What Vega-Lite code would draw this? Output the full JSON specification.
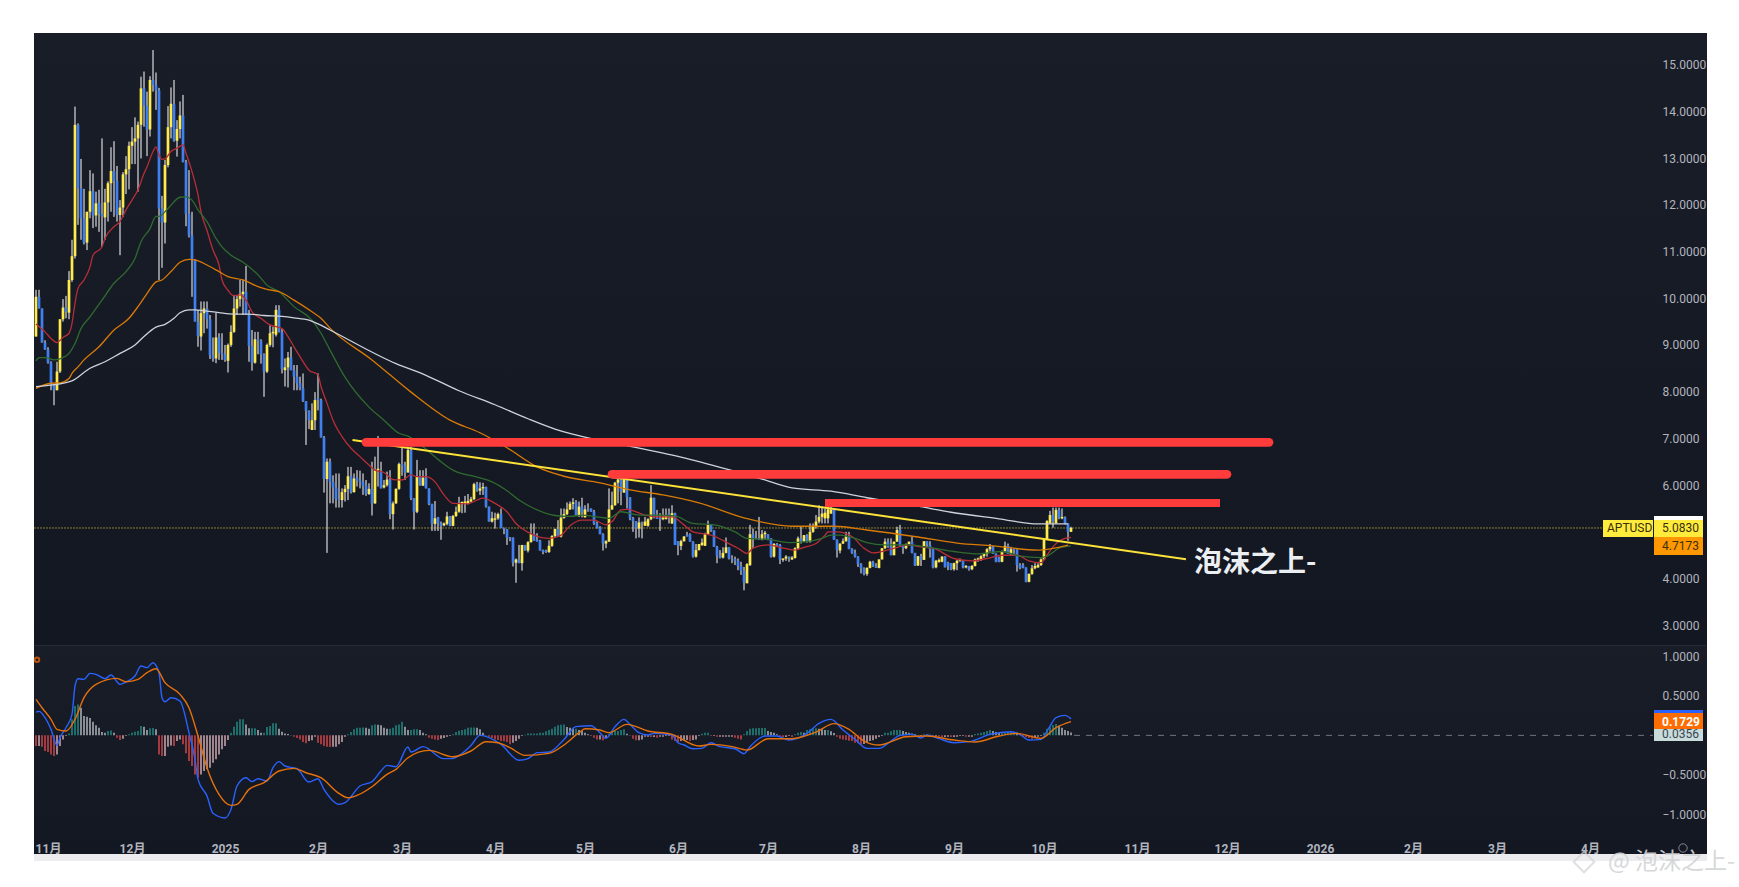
{
"$schema":"https://vega.github.io/schema/vega-lite/v6.json",
"background":"#ffffff",
"padding":{"left":30,"top":33,"right":30,"bottom":33},
"spacing":-1,
"config":{
 "view":{"stroke":null},
 "axis":{"title":null,"grid":false,"ticks":false,"domain":false,"labelFont":"Roboto, Noto Sans CJK SC","labelFontSize":12,"labelColor":"#b2b5be","labelOverlap":false,"labelFlush":false}
},
"datasets":{
"ohlc":[
{"d":"2024-10-30","o":9.18,"h":10.18,"l":9.18,"c":10.03,"m":-0.135},
{"d":"2024-10-31","o":10.03,"h":10.18,"l":9.78,"c":9.78,"m":-0.135},
{"d":"2024-11-01","o":9.78,"h":9.78,"l":9.05,"c":9.05,"m":-0.143},
{"d":"2024-11-02","o":9.05,"h":9.1,"l":8.9,"c":8.9,"m":-0.198},
{"d":"2024-11-03","o":8.9,"h":8.95,"l":8.6,"c":8.62,"m":-0.211},
{"d":"2024-11-04","o":8.62,"h":8.65,"l":8.03,"c":8.16,"m":-0.241},
{"d":"2024-11-05","o":8.16,"h":8.16,"l":7.71,"c":8.03,"m":-0.262},
{"d":"2024-11-06","o":8.03,"h":8.64,"l":8.03,"c":8.43,"m":-0.241},
{"d":"2024-11-07","o":8.43,"h":9.55,"l":8.4,"c":9.55,"m":-0.135},
{"d":"2024-11-08","o":9.55,"h":9.98,"l":9.5,"c":9.8,"m":-0.051},
{"d":"2024-11-09","o":9.8,"h":10.05,"l":9.57,"c":9.71,"m":-0.008},
{"d":"2024-11-10","o":9.69,"h":10.58,"l":9.55,"c":10.39,"m":0.025},
{"d":"2024-11-11","o":10.39,"h":11.25,"l":10.35,"c":10.9,"m":0.203},
{"d":"2024-11-12","o":10.9,"h":14.1,"l":10.85,"c":13.71,"m":0.371},
{"d":"2024-11-13","o":13.71,"h":13.74,"l":11.57,"c":12.35,"m":0.392},
{"d":"2024-11-14","o":12.35,"h":12.98,"l":11.25,"c":11.71,"m":0.35},
{"d":"2024-11-15","o":11.71,"h":12.34,"l":11.15,"c":11.19,"m":0.245},
{"d":"2024-11-16","o":11.19,"h":11.85,"l":11.03,"c":11.85,"m":0.236},
{"d":"2024-11-17","o":11.85,"h":12.74,"l":11.71,"c":12.29,"m":0.219},
{"d":"2024-11-18","o":12.29,"h":12.67,"l":11.5,"c":11.77,"m":0.173},
{"d":"2024-11-19","o":11.77,"h":12.28,"l":11.53,"c":12.03,"m":0.127},
{"d":"2024-11-20","o":12.03,"h":12.32,"l":11.42,"c":11.8,"m":0.097},
{"d":"2024-11-21","o":11.8,"h":13.42,"l":11.1,"c":11.75,"m":0.042},
{"d":"2024-11-22","o":11.73,"h":12.34,"l":11.25,"c":12.05,"m":0.034},
{"d":"2024-11-23","o":12.05,"h":12.5,"l":11.64,"c":12.46,"m":0.055},
{"d":"2024-11-24","o":12.46,"h":13.23,"l":11.85,"c":12.72,"m":0.063},
{"d":"2024-11-25","o":12.72,"h":13.36,"l":11.74,"c":12.51,"m":0.034},
{"d":"2024-11-26","o":12.51,"h":12.83,"l":11.64,"c":11.78,"m":-0.03},
{"d":"2024-11-27","o":11.78,"h":12.1,"l":10.92,"c":11.94,"m":-0.059},
{"d":"2024-11-28","o":11.94,"h":12.7,"l":11.74,"c":12.65,"m":-0.042},
{"d":"2024-11-29","o":12.65,"h":13.04,"l":12.23,"c":12.76,"m":-0.008},
{"d":"2024-11-30","o":12.76,"h":13.35,"l":12.33,"c":13.26,"m":0.013},
{"d":"2024-12-01","o":13.26,"h":13.66,"l":12.87,"c":13.35,"m":0.034},
{"d":"2024-12-02","o":13.35,"h":13.87,"l":12.87,"c":13.42,"m":0.046},
{"d":"2024-12-03","o":13.42,"h":13.78,"l":12.28,"c":13.71,"m":0.055},
{"d":"2024-12-04","o":13.71,"h":14.74,"l":12.99,"c":14.49,"m":0.118},
{"d":"2024-12-05","o":14.49,"h":14.85,"l":13.67,"c":14.12,"m":0.11},
{"d":"2024-12-06","o":14.12,"h":14.42,"l":13.04,"c":13.61,"m":0.068},
{"d":"2024-12-07","o":13.61,"h":14.75,"l":13.46,"c":14.67,"m":0.089},
{"d":"2024-12-08","o":14.67,"h":15.31,"l":14.42,"c":14.56,"m":0.093},
{"d":"2024-12-09","o":14.56,"h":14.83,"l":14.03,"c":14.45,"m":0.076},
{"d":"2024-12-10","o":14.45,"h":14.5,"l":10.39,"c":11.92,"m":-0.241},
{"d":"2024-12-11","o":11.92,"h":12.19,"l":10.65,"c":11.62,"m":-0.262},
{"d":"2024-12-12","o":11.62,"h":12.96,"l":11.17,"c":12.85,"m":-0.262},
{"d":"2024-12-13","o":12.85,"h":14.11,"l":12.8,"c":13.66,"m":-0.143},
{"d":"2024-12-14","o":13.66,"h":14.51,"l":13.42,"c":14.16,"m":-0.127},
{"d":"2024-12-15","o":14.16,"h":14.67,"l":13.35,"c":13.37,"m":-0.135},
{"d":"2024-12-16","o":13.37,"h":13.81,"l":13.03,"c":13.62,"m":-0.072},
{"d":"2024-12-17","o":13.62,"h":14.21,"l":13.42,"c":13.91,"m":-0.051},
{"d":"2024-12-18","o":13.91,"h":14.35,"l":12.91,"c":12.91,"m":-0.114},
{"d":"2024-12-19","o":12.91,"h":12.96,"l":11.54,"c":11.8,"m":-0.228},
{"d":"2024-12-20","o":11.8,"h":12.74,"l":11.3,"c":11.34,"m":-0.325},
{"d":"2024-12-21","o":11.34,"h":11.85,"l":10.03,"c":10.83,"m":-0.388},
{"d":"2024-12-22","o":10.83,"h":10.83,"l":9.5,"c":9.5,"m":-0.494},
{"d":"2024-12-23","o":9.5,"h":9.75,"l":8.96,"c":9.19,"m":-0.536},
{"d":"2024-12-24","o":9.18,"h":9.93,"l":8.88,"c":9.68,"m":-0.494},
{"d":"2024-12-25","o":9.68,"h":9.93,"l":9.25,"c":9.78,"m":-0.451},
{"d":"2024-12-26","o":9.78,"h":9.93,"l":9.35,"c":9.55,"m":-0.43},
{"d":"2024-12-27","o":9.55,"h":9.64,"l":8.7,"c":8.78,"m":-0.409},
{"d":"2024-12-28","o":8.78,"h":9.16,"l":8.64,"c":8.71,"m":-0.346},
{"d":"2024-12-29","o":8.71,"h":9.69,"l":8.61,"c":9.16,"m":-0.304},
{"d":"2024-12-30","o":9.16,"h":9.25,"l":8.68,"c":8.83,"m":-0.241},
{"d":"2024-12-31","o":8.83,"h":9.25,"l":8.68,"c":8.8,"m":-0.177},
{"d":"2025-01-01","o":8.8,"h":9,"l":8.64,"c":8.68,"m":-0.135},
{"d":"2025-01-02","o":8.66,"h":9.03,"l":8.41,"c":9,"m":-0.059},
{"d":"2025-01-03","o":9,"h":9.42,"l":8.96,"c":9.28,"m":0.034},
{"d":"2025-01-04","o":9.28,"h":10.07,"l":9.26,"c":9.78,"m":0.11},
{"d":"2025-01-05","o":9.78,"h":10.07,"l":9.64,"c":9.98,"m":0.173},
{"d":"2025-01-06","o":9.98,"h":10.39,"l":9.82,"c":10.09,"m":0.203},
{"d":"2025-01-07","o":10.09,"h":10.39,"l":9.64,"c":10.14,"m":0.203},
{"d":"2025-01-08","o":10.14,"h":10.69,"l":9.64,"c":9.65,"m":0.139},
{"d":"2025-01-09","o":9.65,"h":9.75,"l":8.64,"c":8.98,"m":0.089},
{"d":"2025-01-10","o":8.98,"h":9.32,"l":8.45,"c":8.62,"m":0.089},
{"d":"2025-01-11","o":8.62,"h":9.28,"l":8.6,"c":9.12,"m":0.089},
{"d":"2025-01-12","o":9.12,"h":9.28,"l":8.8,"c":9.09,"m":0.068},
{"d":"2025-01-13","o":9.09,"h":9.12,"l":8.6,"c":8.8,"m":0.034},
{"d":"2025-01-14","o":8.8,"h":8.82,"l":7.89,"c":8.43,"m":0.034},
{"d":"2025-01-15","o":8.43,"h":9.03,"l":8.4,"c":9,"m":0.105},
{"d":"2025-01-16","o":9,"h":9.42,"l":8.96,"c":9.25,"m":0.118},
{"d":"2025-01-17","o":9.25,"h":9.39,"l":8.95,"c":9.28,"m":0.152},
{"d":"2025-01-18","o":9.22,"h":9.85,"l":9.18,"c":9.75,"m":0.152},
{"d":"2025-01-19","o":9.75,"h":9.85,"l":9.27,"c":9.27,"m":0.084},
{"d":"2025-01-20","o":9.27,"h":9.35,"l":8.39,"c":8.48,"m":0.046},
{"d":"2025-01-21","o":8.46,"h":8.71,"l":8.11,"c":8.52,"m":0.025},
{"d":"2025-01-22","o":8.52,"h":8.85,"l":8.09,"c":8.73,"m":0.017},
{"d":"2025-01-23","o":8.73,"h":8.96,"l":8.46,"c":8.46,"m":0.004},
{"d":"2025-01-24","o":8.46,"h":8.57,"l":8.03,"c":8.32,"m":-0.017},
{"d":"2025-01-25","o":8.32,"h":8.57,"l":8.03,"c":8.18,"m":-0.034},
{"d":"2025-01-26","o":8.18,"h":8.32,"l":8.03,"c":8.07,"m":-0.051},
{"d":"2025-01-27","o":8.07,"h":8.39,"l":7.78,"c":7.8,"m":-0.084},
{"d":"2025-01-28","o":7.8,"h":7.8,"l":6.86,"c":7.59,"m":-0.101},
{"d":"2025-01-29","o":7.59,"h":7.6,"l":7.2,"c":7.39,"m":-0.072},
{"d":"2025-01-30","o":7.18,"h":7.75,"l":7.18,"c":7.39,"m":-0.063},
{"d":"2025-01-31","o":7.39,"h":7.99,"l":7.18,"c":7.82,"m":-0.017},
{"d":"2025-02-01","o":7.85,"h":8.39,"l":7.6,"c":7.82,"m":-0.093},
{"d":"2025-02-02","o":7.82,"h":7.85,"l":7.02,"c":7.02,"m":-0.114},
{"d":"2025-02-03","o":7.02,"h":7.05,"l":5.84,"c":6.13,"m":-0.135},
{"d":"2025-02-04","o":6.13,"h":6.57,"l":4.55,"c":6.5,"m":-0.143},
{"d":"2025-02-05","o":6.5,"h":6.57,"l":5.61,"c":6.07,"m":-0.148},
{"d":"2025-02-06","o":6.07,"h":6.21,"l":5.61,"c":5.95,"m":-0.143},
{"d":"2025-02-07","o":5.95,"h":6.25,"l":5.52,"c":5.7,"m":-0.143},
{"d":"2025-02-08","o":5.7,"h":6.25,"l":5.52,"c":5.68,"m":-0.114},
{"d":"2025-02-09","o":5.68,"h":5.93,"l":5.52,"c":5.85,"m":-0.084},
{"d":"2025-02-10","o":5.85,"h":6,"l":5.65,"c":5.92,"m":-0.017},
{"d":"2025-02-11","o":5.92,"h":6.39,"l":5.68,"c":6.19,"m":0.013},
{"d":"2025-02-12","o":6.19,"h":6.39,"l":5.82,"c":5.85,"m":0.042},
{"d":"2025-02-13","o":5.85,"h":6.25,"l":5.84,"c":6.14,"m":0.076},
{"d":"2025-02-14","o":6.16,"h":6.32,"l":5.97,"c":6.1,"m":0.097},
{"d":"2025-02-15","o":6.1,"h":6.31,"l":5.93,"c":6.07,"m":0.097},
{"d":"2025-02-16","o":6.07,"h":6.25,"l":5.79,"c":5.99,"m":0.101},
{"d":"2025-02-17","o":5.99,"h":6.11,"l":5.77,"c":5.81,"m":0.097},
{"d":"2025-02-18","o":5.81,"h":6.04,"l":5.79,"c":5.92,"m":0.084},
{"d":"2025-02-19","o":5.92,"h":6.5,"l":5.35,"c":5.61,"m":0.127},
{"d":"2025-02-20","o":5.61,"h":6.61,"l":5.6,"c":6.32,"m":0.139},
{"d":"2025-02-21","o":6.32,"h":7.05,"l":5.97,"c":6.35,"m":0.135},
{"d":"2025-02-22","o":6.3,"h":6.5,"l":5.93,"c":5.93,"m":0.127},
{"d":"2025-02-23","o":5.95,"h":6.11,"l":5.93,"c":6,"m":0.097},
{"d":"2025-02-24","o":6,"h":6.29,"l":5.97,"c":6.12,"m":0.084},
{"d":"2025-02-25","o":6.12,"h":6.32,"l":5.27,"c":5.38,"m":0.084},
{"d":"2025-02-26","o":5.38,"h":5.65,"l":5.05,"c":5.61,"m":0.097},
{"d":"2025-02-27","o":5.61,"h":5.93,"l":5.6,"c":5.92,"m":0.127},
{"d":"2025-02-28","o":5.92,"h":6.48,"l":5.9,"c":6.45,"m":0.139},
{"d":"2025-03-01","o":6.45,"h":6.81,"l":6.2,"c":6.42,"m":0.173},
{"d":"2025-03-02","o":6.42,"h":6.5,"l":6.11,"c":6.27,"m":0.11},
{"d":"2025-03-03","o":6.27,"h":6.82,"l":6.27,"c":6.75,"m":0.068},
{"d":"2025-03-04","o":6.75,"h":6.82,"l":5.68,"c":5.72,"m":0.068},
{"d":"2025-03-05","o":5.72,"h":5.72,"l":5.05,"c":5.43,"m":0.076},
{"d":"2025-03-06","o":5.43,"h":6.54,"l":5.4,"c":6.19,"m":0.076},
{"d":"2025-03-07","o":6.19,"h":6.32,"l":5.99,"c":5.99,"m":0.068},
{"d":"2025-03-08","o":5.99,"h":6.32,"l":5.98,"c":6.16,"m":0.034},
{"d":"2025-03-09","o":6.16,"h":6.36,"l":5.93,"c":5.93,"m":0.013},
{"d":"2025-03-10","o":5.93,"h":5.93,"l":5.57,"c":5.6,"m":-0.03},
{"d":"2025-03-11","o":5.6,"h":5.6,"l":5.02,"c":5.17,"m":-0.042},
{"d":"2025-03-12","o":5.17,"h":5.66,"l":5.02,"c":5.29,"m":-0.051},
{"d":"2025-03-13","o":5.31,"h":5.32,"l":5.02,"c":5.18,"m":-0.059},
{"d":"2025-03-14","o":5.18,"h":5.22,"l":4.83,"c":5.13,"m":-0.042},
{"d":"2025-03-15","o":5.14,"h":5.2,"l":5.12,"c":5.18,"m":-0.034},
{"d":"2025-03-16","o":5.17,"h":5.43,"l":5.14,"c":5.33,"m":-0.017},
{"d":"2025-03-17","o":5.33,"h":5.34,"l":5.12,"c":5.13,"m":-0.008},
{"d":"2025-03-18","o":5.13,"h":5.36,"l":5.12,"c":5.34,"m":0.013},
{"d":"2025-03-19","o":5.34,"h":5.54,"l":5.32,"c":5.43,"m":0.042},
{"d":"2025-03-20","o":5.43,"h":5.75,"l":5.41,"c":5.61,"m":0.059},
{"d":"2025-03-21","o":5.61,"h":5.65,"l":5.4,"c":5.64,"m":0.068},
{"d":"2025-03-22","o":5.6,"h":5.77,"l":5.41,"c":5.65,"m":0.076},
{"d":"2025-03-23","o":5.6,"h":5.81,"l":5.59,"c":5.66,"m":0.097},
{"d":"2025-03-24","o":5.65,"h":5.75,"l":5.63,"c":5.7,"m":0.101},
{"d":"2025-03-25","o":5.7,"h":6.05,"l":5.68,"c":6.02,"m":0.101},
{"d":"2025-03-26","o":6.02,"h":6.07,"l":5.86,"c":5.88,"m":0.097},
{"d":"2025-03-27","o":5.88,"h":6.06,"l":5.79,"c":5.93,"m":0.076},
{"d":"2025-03-28","o":5.93,"h":6.05,"l":5.79,"c":5.96,"m":0.034},
{"d":"2025-03-29","o":5.96,"h":5.97,"l":5.52,"c":5.54,"m":0.004},
{"d":"2025-03-30","o":5.54,"h":5.54,"l":5.22,"c":5.22,"m":-0.017},
{"d":"2025-03-31","o":5.22,"h":5.43,"l":5.2,"c":5.29,"m":-0.034},
{"d":"2025-04-01","o":5.26,"h":5.41,"l":5.07,"c":5.29,"m":-0.051},
{"d":"2025-04-02","o":5.29,"h":5.41,"l":5.26,"c":5.38,"m":-0.059},
{"d":"2025-04-03","o":5.38,"h":5.5,"l":5.08,"c":5.08,"m":-0.072},
{"d":"2025-04-04","o":5.08,"h":5.09,"l":4.95,"c":5.06,"m":-0.076},
{"d":"2025-04-05","o":5.06,"h":5.06,"l":4.72,"c":4.88,"m":-0.084},
{"d":"2025-04-06","o":4.88,"h":4.89,"l":4.8,"c":4.85,"m":-0.114},
{"d":"2025-04-07","o":4.88,"h":4.88,"l":4.26,"c":4.34,"m":-0.093},
{"d":"2025-04-08","o":4.34,"h":4.43,"l":3.91,"c":4.41,"m":-0.072},
{"d":"2025-04-09","o":4.41,"h":4.72,"l":4.33,"c":4.33,"m":-0.042},
{"d":"2025-04-10","o":4.33,"h":4.72,"l":4.17,"c":4.72,"m":-0.008},
{"d":"2025-04-11","o":4.72,"h":4.72,"l":4.6,"c":4.6,"m":0.008},
{"d":"2025-04-12","o":4.6,"h":4.8,"l":4.56,"c":4.78,"m":0.025},
{"d":"2025-04-13","o":4.78,"h":5.18,"l":4.77,"c":4.95,"m":0.025},
{"d":"2025-04-14","o":4.95,"h":5.18,"l":4.81,"c":4.81,"m":0.025},
{"d":"2025-04-15","o":4.83,"h":4.97,"l":4.79,"c":4.8,"m":0.025},
{"d":"2025-04-16","o":4.81,"h":4.83,"l":4.6,"c":4.6,"m":0.034},
{"d":"2025-04-17","o":4.6,"h":4.62,"l":4.52,"c":4.57,"m":0.034},
{"d":"2025-04-18","o":4.6,"h":4.62,"l":4.55,"c":4.57,"m":0.051},
{"d":"2025-04-19","o":4.57,"h":4.82,"l":4.55,"c":4.7,"m":0.068},
{"d":"2025-04-20","o":4.7,"h":4.93,"l":4.68,"c":4.91,"m":0.084},
{"d":"2025-04-21","o":4.91,"h":5.07,"l":4.88,"c":5.06,"m":0.11},
{"d":"2025-04-22","o":5.06,"h":5.25,"l":4.9,"c":4.9,"m":0.127},
{"d":"2025-04-23","o":4.9,"h":5.5,"l":4.88,"c":5.3,"m":0.135},
{"d":"2025-04-24","o":5.3,"h":5.5,"l":5.28,"c":5.38,"m":0.139},
{"d":"2025-04-25","o":5.38,"h":5.63,"l":5.36,"c":5.48,"m":0.105},
{"d":"2025-04-26","o":5.48,"h":5.65,"l":5.47,"c":5.6,"m":0.097},
{"d":"2025-04-27","o":5.6,"h":5.72,"l":5.48,"c":5.63,"m":0.084},
{"d":"2025-04-28","o":5.63,"h":5.68,"l":5.34,"c":5.36,"m":0.084},
{"d":"2025-04-29","o":5.34,"h":5.65,"l":5.32,"c":5.54,"m":0.068},
{"d":"2025-04-30","o":5.54,"h":5.73,"l":5.31,"c":5.41,"m":0.055},
{"d":"2025-05-01","o":5.31,"h":5.57,"l":5.31,"c":5.48,"m":0.034},
{"d":"2025-05-02","o":5.48,"h":5.61,"l":5.43,"c":5.47,"m":0.013},
{"d":"2025-05-03","o":5.5,"h":5.5,"l":5.43,"c":5.43,"m":-0.008},
{"d":"2025-05-04","o":5.43,"h":5.47,"l":5.15,"c":5.18,"m":-0.03},
{"d":"2025-05-05","o":5.18,"h":5.22,"l":5.07,"c":5.09,"m":-0.051},
{"d":"2025-05-06","o":5.09,"h":5.12,"l":4.95,"c":4.95,"m":-0.051},
{"d":"2025-05-07","o":4.95,"h":4.97,"l":4.6,"c":4.75,"m":-0.063},
{"d":"2025-05-08","o":4.75,"h":4.82,"l":4.65,"c":4.8,"m":-0.03},
{"d":"2025-05-09","o":4.79,"h":5.93,"l":4.79,"c":5.48,"m":0.013},
{"d":"2025-05-10","o":5.48,"h":5.86,"l":5.47,"c":5.57,"m":0.042},
{"d":"2025-05-11","o":5.57,"h":6.07,"l":5.56,"c":6.05,"m":0.055},
{"d":"2025-05-12","o":6.05,"h":6.18,"l":5.61,"c":6.12,"m":0.055},
{"d":"2025-05-13","o":6.12,"h":6.13,"l":5.57,"c":5.86,"m":0.068},
{"d":"2025-05-14","o":5.84,"h":6.17,"l":5.84,"c":6.12,"m":0.076},
{"d":"2025-05-15","o":6.12,"h":6.15,"l":5.5,"c":5.74,"m":0.021},
{"d":"2025-05-16","o":5.74,"h":5.74,"l":5.25,"c":5.29,"m":0.004},
{"d":"2025-05-17","o":5.29,"h":5.32,"l":5,"c":5.23,"m":-0.042},
{"d":"2025-05-18","o":5.23,"h":5.23,"l":4.86,"c":5.07,"m":-0.063},
{"d":"2025-05-19","o":5.07,"h":5.31,"l":4.88,"c":5.2,"m":-0.063},
{"d":"2025-05-20","o":5.2,"h":5.22,"l":4.86,"c":5.18,"m":-0.051},
{"d":"2025-05-21","o":5.13,"h":5.32,"l":5.13,"c":5.22,"m":-0.017},
{"d":"2025-05-22","o":5.13,"h":5.29,"l":5.11,"c":5.27,"m":-0.017},
{"d":"2025-05-23","o":5.27,"h":6,"l":5.25,"c":5.73,"m":-0.021},
{"d":"2025-05-24","o":5.73,"h":5.73,"l":5.29,"c":5.31,"m":-0.021},
{"d":"2025-05-25","o":5.31,"h":5.47,"l":5.28,"c":5.28,"m":-0.03},
{"d":"2025-05-26","o":5.3,"h":5.4,"l":5.02,"c":5.27,"m":-0.017},
{"d":"2025-05-27","o":5.27,"h":5.5,"l":5.25,"c":5.32,"m":-0.017},
{"d":"2025-05-28","o":5.27,"h":5.5,"l":5.27,"c":5.36,"m":-0.008},
{"d":"2025-05-29","o":5.39,"h":5.5,"l":5.18,"c":5.36,"m":-0.008},
{"d":"2025-05-30","o":5.18,"h":5.57,"l":5.17,"c":5.4,"m":-0.051},
{"d":"2025-05-31","o":5.4,"h":5.41,"l":4.72,"c":4.72,"m":-0.072},
{"d":"2025-06-01","o":4.8,"h":4.8,"l":4.5,"c":4.7,"m":-0.084},
{"d":"2025-06-02","o":4.7,"h":4.83,"l":4.61,"c":4.8,"m":-0.072},
{"d":"2025-06-03","o":4.8,"h":4.91,"l":4.79,"c":4.9,"m":-0.059},
{"d":"2025-06-04","o":4.93,"h":5,"l":4.9,"c":4.9,"m":-0.059},
{"d":"2025-06-05","o":4.95,"h":4.97,"l":4.79,"c":4.79,"m":-0.072},
{"d":"2025-06-06","o":4.79,"h":4.8,"l":4.45,"c":4.47,"m":-0.059},
{"d":"2025-06-07","o":4.47,"h":4.74,"l":4.45,"c":4.61,"m":-0.051},
{"d":"2025-06-08","o":4.61,"h":4.74,"l":4.6,"c":4.74,"m":-0.008},
{"d":"2025-06-09","o":4.72,"h":4.86,"l":4.7,"c":4.77,"m":0.021},
{"d":"2025-06-10","o":4.7,"h":4.98,"l":4.7,"c":4.95,"m":0.034},
{"d":"2025-06-11","o":4.95,"h":5.24,"l":4.93,"c":5.15,"m":0.034},
{"d":"2025-06-12","o":5.15,"h":5.15,"l":5,"c":5.03,"m":-0.008},
{"d":"2025-06-13","o":5.03,"h":5.03,"l":4.68,"c":4.68,"m":-0.008},
{"d":"2025-06-14","o":4.68,"h":4.7,"l":4.33,"c":4.49,"m":-0.017},
{"d":"2025-06-15","o":4.49,"h":4.61,"l":4.43,"c":4.45,"m":-0.017},
{"d":"2025-06-16","o":4.45,"h":4.67,"l":4.43,"c":4.55,"m":-0.017},
{"d":"2025-06-17","o":4.55,"h":4.88,"l":4.54,"c":4.67,"m":-0.017},
{"d":"2025-06-18","o":4.67,"h":4.67,"l":4.41,"c":4.43,"m":-0.017},
{"d":"2025-06-19","o":4.43,"h":4.5,"l":4.33,"c":4.42,"m":-0.017},
{"d":"2025-06-20","o":4.42,"h":4.47,"l":4.29,"c":4.38,"m":-0.03},
{"d":"2025-06-21","o":4.38,"h":4.43,"l":4.18,"c":4.27,"m":-0.042},
{"d":"2025-06-22","o":4.27,"h":4.36,"l":4.08,"c":4.17,"m":-0.051},
{"d":"2025-06-23","o":4.17,"h":4.25,"l":3.75,"c":3.91,"m":0.013},
{"d":"2025-06-24","o":3.9,"h":4.33,"l":3.9,"c":4.31,"m":0.055},
{"d":"2025-06-25","o":4.29,"h":5.15,"l":4.27,"c":4.95,"m":0.084},
{"d":"2025-06-26","o":4.95,"h":5.07,"l":4.65,"c":4.86,"m":0.089},
{"d":"2025-06-27","o":4.86,"h":5.02,"l":4.84,"c":4.85,"m":0.089},
{"d":"2025-06-28","o":4.85,"h":5.32,"l":4.83,"c":4.84,"m":0.093},
{"d":"2025-06-29","o":4.84,"h":5.04,"l":4.82,"c":4.95,"m":0.093},
{"d":"2025-06-30","o":4.95,"h":5.02,"l":4.84,"c":4.98,"m":0.093},
{"d":"2025-07-01","o":4.95,"h":4.95,"l":4.82,"c":4.86,"m":0.055},
{"d":"2025-07-02","o":4.86,"h":4.86,"l":4.45,"c":4.47,"m":0.042},
{"d":"2025-07-03","o":4.47,"h":4.76,"l":4.45,"c":4.74,"m":0.034},
{"d":"2025-07-04","o":4.74,"h":4.76,"l":4.7,"c":4.72,"m":0.013},
{"d":"2025-07-05","o":4.72,"h":4.74,"l":4.31,"c":4.41,"m":-0.017},
{"d":"2025-07-06","o":4.4,"h":4.43,"l":4.36,"c":4.43,"m":-0.021},
{"d":"2025-07-07","o":4.43,"h":4.5,"l":4.38,"c":4.47,"m":-0.021},
{"d":"2025-07-08","o":4.47,"h":4.47,"l":4.36,"c":4.43,"m":-0.008},
{"d":"2025-07-09","o":4.41,"h":4.48,"l":4.4,"c":4.45,"m":-0.021},
{"d":"2025-07-10","o":4.44,"h":4.67,"l":4.43,"c":4.65,"m":0.013},
{"d":"2025-07-11","o":4.65,"h":4.9,"l":4.63,"c":4.86,"m":0.034},
{"d":"2025-07-12","o":4.86,"h":5.11,"l":4.75,"c":4.79,"m":0.042},
{"d":"2025-07-13","o":4.79,"h":4.93,"l":4.79,"c":4.93,"m":0.034},
{"d":"2025-07-14","o":4.93,"h":4.95,"l":4.77,"c":4.79,"m":0.068},
{"d":"2025-07-15","o":4.79,"h":5.18,"l":4.77,"c":5,"m":0.076},
{"d":"2025-07-16","o":5,"h":5.18,"l":4.98,"c":5.11,"m":0.084},
{"d":"2025-07-17","o":5.11,"h":5.36,"l":5.07,"c":5.22,"m":0.089},
{"d":"2025-07-18","o":5.22,"h":5.57,"l":5.18,"c":5.32,"m":0.084},
{"d":"2025-07-19","o":5.32,"h":5.54,"l":5.18,"c":5.39,"m":0.076},
{"d":"2025-07-20","o":5.29,"h":5.5,"l":5.18,"c":5.41,"m":0.068},
{"d":"2025-07-21","o":5.29,"h":5.54,"l":5.18,"c":5.48,"m":0.068},
{"d":"2025-07-22","o":5.39,"h":5.54,"l":5.39,"c":5.48,"m":0.051},
{"d":"2025-07-23","o":5.48,"h":5.5,"l":4.83,"c":4.83,"m":0.03},
{"d":"2025-07-24","o":4.83,"h":4.84,"l":4.45,"c":4.61,"m":-0.017},
{"d":"2025-07-25","o":4.6,"h":4.75,"l":4.54,"c":4.75,"m":-0.042},
{"d":"2025-07-26","o":4.75,"h":4.86,"l":4.74,"c":4.8,"m":-0.051},
{"d":"2025-07-27","o":4.8,"h":5,"l":4.79,"c":4.9,"m":-0.059},
{"d":"2025-07-28","o":4.9,"h":5,"l":4.63,"c":4.63,"m":-0.068},
{"d":"2025-07-29","o":4.63,"h":4.65,"l":4.53,"c":4.55,"m":-0.072},
{"d":"2025-07-30","o":4.55,"h":4.62,"l":4.45,"c":4.47,"m":-0.093},
{"d":"2025-07-31","o":4.47,"h":4.48,"l":4.25,"c":4.31,"m":-0.101},
{"d":"2025-08-01","o":4.31,"h":4.33,"l":4.11,"c":4.22,"m":-0.118},
{"d":"2025-08-02","o":4.22,"h":4.24,"l":4.07,"c":4.1,"m":-0.11},
{"d":"2025-08-03","o":4.1,"h":4.24,"l":4.06,"c":4.23,"m":-0.084},
{"d":"2025-08-04","o":4.23,"h":4.38,"l":4.22,"c":4.36,"m":-0.072},
{"d":"2025-08-05","o":4.36,"h":4.38,"l":4.25,"c":4.27,"m":-0.063},
{"d":"2025-08-06","o":4.27,"h":4.33,"l":4.23,"c":4.23,"m":-0.042},
{"d":"2025-08-07","o":4.23,"h":4.41,"l":4.22,"c":4.41,"m":-0.021},
{"d":"2025-08-08","o":4.41,"h":4.65,"l":4.41,"c":4.65,"m":-0.008},
{"d":"2025-08-09","o":4.65,"h":4.86,"l":4.63,"c":4.79,"m":0.034},
{"d":"2025-08-10","o":4.79,"h":4.86,"l":4.66,"c":4.68,"m":0.034},
{"d":"2025-08-11","o":4.68,"h":4.86,"l":4.5,"c":4.5,"m":0.051},
{"d":"2025-08-12","o":4.5,"h":4.79,"l":4.5,"c":4.79,"m":0.068},
{"d":"2025-08-13","o":4.79,"h":5.11,"l":4.79,"c":5.04,"m":0.068},
{"d":"2025-08-14","o":5.04,"h":5.15,"l":4.68,"c":4.7,"m":0.068},
{"d":"2025-08-15","o":4.7,"h":4.72,"l":4.53,"c":4.65,"m":0.055},
{"d":"2025-08-16","o":4.65,"h":4.75,"l":4.63,"c":4.74,"m":0.042},
{"d":"2025-08-17","o":4.74,"h":4.79,"l":4.73,"c":4.79,"m":0.034},
{"d":"2025-08-18","o":4.79,"h":4.9,"l":4.54,"c":4.55,"m":0.025},
{"d":"2025-08-19","o":4.55,"h":4.55,"l":4.27,"c":4.28,"m":0.013},
{"d":"2025-08-20","o":4.28,"h":4.48,"l":4.27,"c":4.48,"m":-0.008},
{"d":"2025-08-21","o":4.48,"h":4.53,"l":4.27,"c":4.4,"m":-0.008},
{"d":"2025-08-22","o":4.4,"h":4.8,"l":4.4,"c":4.8,"m":0.013},
{"d":"2025-08-23","o":4.8,"h":4.8,"l":4.66,"c":4.72,"m":0.013},
{"d":"2025-08-24","o":4.72,"h":4.8,"l":4.45,"c":4.63,"m":0},
{"d":"2025-08-25","o":4.63,"h":4.65,"l":4.22,"c":4.24,"m":-0.008},
{"d":"2025-08-26","o":4.24,"h":4.4,"l":4.22,"c":4.38,"m":-0.008},
{"d":"2025-08-27","o":4.36,"h":4.43,"l":4.34,"c":4.4,"m":-0.013},
{"d":"2025-08-28","o":4.36,"h":4.48,"l":4.35,"c":4.47,"m":-0.021},
{"d":"2025-08-29","o":4.47,"h":4.48,"l":4.24,"c":4.24,"m":-0.021},
{"d":"2025-08-30","o":4.34,"h":4.36,"l":4.18,"c":4.27,"m":-0.017},
{"d":"2025-08-31","o":4.33,"h":4.33,"l":4.18,"c":4.2,"m":-0.021},
{"d":"2025-09-01","o":4.2,"h":4.34,"l":4.17,"c":4.33,"m":-0.021},
{"d":"2025-09-02","o":4.33,"h":4.4,"l":4.18,"c":4.38,"m":-0.017},
{"d":"2025-09-03","o":4.38,"h":4.43,"l":4.36,"c":4.4,"m":-0.008},
{"d":"2025-09-04","o":4.38,"h":4.4,"l":4.22,"c":4.24,"m":-0.008},
{"d":"2025-09-05","o":4.24,"h":4.29,"l":4.22,"c":4.27,"m":-0.017},
{"d":"2025-09-06","o":4.27,"h":4.27,"l":4.17,"c":4.2,"m":-0.017},
{"d":"2025-09-07","o":4.2,"h":4.29,"l":4.18,"c":4.27,"m":-0.017},
{"d":"2025-09-08","o":4.27,"h":4.43,"l":4.26,"c":4.41,"m":0.017},
{"d":"2025-09-09","o":4.4,"h":4.45,"l":4.36,"c":4.43,"m":0.025},
{"d":"2025-09-10","o":4.4,"h":4.5,"l":4.38,"c":4.48,"m":0.034},
{"d":"2025-09-11","o":4.48,"h":4.55,"l":4.44,"c":4.53,"m":0.042},
{"d":"2025-09-12","o":4.53,"h":4.65,"l":4.47,"c":4.63,"m":0.055},
{"d":"2025-09-13","o":4.63,"h":4.74,"l":4.58,"c":4.68,"m":0.068},
{"d":"2025-09-14","o":4.68,"h":4.7,"l":4.53,"c":4.53,"m":0.055},
{"d":"2025-09-15","o":4.53,"h":4.54,"l":4.35,"c":4.36,"m":0.042},
{"d":"2025-09-16","o":4.45,"h":4.47,"l":4.35,"c":4.36,"m":0.034},
{"d":"2025-09-17","o":4.36,"h":4.6,"l":4.35,"c":4.58,"m":0.034},
{"d":"2025-09-18","o":4.58,"h":4.79,"l":4.56,"c":4.7,"m":0.034},
{"d":"2025-09-19","o":4.7,"h":4.75,"l":4.53,"c":4.53,"m":0.042},
{"d":"2025-09-20","o":4.53,"h":4.68,"l":4.5,"c":4.63,"m":0.042},
{"d":"2025-09-21","o":4.63,"h":4.65,"l":4.53,"c":4.61,"m":0.042},
{"d":"2025-09-22","o":4.61,"h":4.63,"l":4.15,"c":4.29,"m":0.034},
{"d":"2025-09-23","o":4.29,"h":4.33,"l":4.2,"c":4.22,"m":0.025},
{"d":"2025-09-24","o":4.29,"h":4.33,"l":4.22,"c":4.24,"m":-0.017},
{"d":"2025-09-25","o":4.24,"h":4.24,"l":3.92,"c":3.93,"m":-0.025},
{"d":"2025-09-26","o":3.93,"h":4.11,"l":3.92,"c":4.1,"m":-0.034},
{"d":"2025-09-27","o":4.1,"h":4.29,"l":4.08,"c":4.22,"m":-0.042},
{"d":"2025-09-28","o":4.22,"h":4.33,"l":4.2,"c":4.27,"m":-0.034},
{"d":"2025-09-29","o":4.24,"h":4.33,"l":4.23,"c":4.29,"m":-0.017},
{"d":"2025-09-30","o":4.29,"h":4.43,"l":4.27,"c":4.41,"m":-0.008},
{"d":"2025-10-01","o":4.41,"h":4.86,"l":4.4,"c":4.84,"m":0.034},
{"d":"2025-10-02","o":4.84,"h":5.25,"l":4.84,"c":5.23,"m":0.084},
{"d":"2025-10-03","o":5.18,"h":5.45,"l":5.18,"c":5.36,"m":0.11},
{"d":"2025-10-04","o":5.36,"h":5.52,"l":5.09,"c":5.22,"m":0.131},
{"d":"2025-10-05","o":5.19,"h":5.52,"l":5.17,"c":5.47,"m":0.143},
{"d":"2025-10-06","o":5.47,"h":5.52,"l":5.27,"c":5.29,"m":0.118},
{"d":"2025-10-07","o":5.29,"h":5.5,"l":5.27,"c":5.32,"m":0.097},
{"d":"2025-10-08","o":5.31,"h":5.33,"l":5.16,"c":5.18,"m":0.068},
{"d":"2025-10-09","o":5.18,"h":5.18,"l":4.81,"c":5,"m":0.055},
{"d":"2025-10-10","o":5,"h":5.11,"l":5,"c":5.083,"m":0.0356}
],
"ma":[
{"s":"fast","d":"2024-10-30","v":9.45},{"s":"fast","d":"2024-11-02","v":9.28},{"s":"fast","d":"2024-11-04","v":9.14},{"s":"fast","d":"2024-11-06","v":9.05},{"s":"fast","d":"2024-11-08","v":9.16},{"s":"fast","d":"2024-11-10","v":9.25},{"s":"fast","d":"2024-11-11","v":9.46},{"s":"fast","d":"2024-11-12","v":9.89},{"s":"fast","d":"2024-11-13","v":10.21},{"s":"fast","d":"2024-11-15","v":10.39},{"s":"fast","d":"2024-11-17","v":10.67},{"s":"fast","d":"2024-11-18","v":10.92},{"s":"fast","d":"2024-11-21","v":11.1},{"s":"fast","d":"2024-11-22","v":11.28},{"s":"fast","d":"2024-11-25","v":11.53},{"s":"fast","d":"2024-11-27","v":11.64},{"s":"fast","d":"2024-11-29","v":11.89},{"s":"fast","d":"2024-12-01","v":12.1},{"s":"fast","d":"2024-12-03","v":12.32},{"s":"fast","d":"2024-12-05","v":12.67},{"s":"fast","d":"2024-12-06","v":12.81},{"s":"fast","d":"2024-12-08","v":13.14},{"s":"fast","d":"2024-12-09","v":13.24},{"s":"fast","d":"2024-12-10","v":13.06},{"s":"fast","d":"2024-12-11","v":12.97},{"s":"fast","d":"2024-12-12","v":12.98},{"s":"fast","d":"2024-12-14","v":13.14},{"s":"fast","d":"2024-12-16","v":13.21},{"s":"fast","d":"2024-12-18","v":13.28},{"s":"fast","d":"2024-12-19","v":13.1},{"s":"fast","d":"2024-12-21","v":12.71},{"s":"fast","d":"2024-12-23","v":12.21},{"s":"fast","d":"2024-12-24","v":11.85},{"s":"fast","d":"2024-12-26","v":11.45},{"s":"fast","d":"2024-12-28","v":11.03},{"s":"fast","d":"2024-12-30","v":10.71},{"s":"fast","d":"2024-12-31","v":10.39},{"s":"fast","d":"2025-01-02","v":10.17},{"s":"fast","d":"2025-01-04","v":10.05},{"s":"fast","d":"2025-01-06","v":10.07},{"s":"fast","d":"2025-01-08","v":9.96},{"s":"fast","d":"2025-01-10","v":9.71},{"s":"fast","d":"2025-01-13","v":9.57},{"s":"fast","d":"2025-01-16","v":9.43},{"s":"fast","d":"2025-01-18","v":9.39},{"s":"fast","d":"2025-01-20","v":9.35},{"s":"fast","d":"2025-01-22","v":9.18},{"s":"fast","d":"2025-01-24","v":8.96},{"s":"fast","d":"2025-01-26","v":8.75},{"s":"fast","d":"2025-01-29","v":8.46},{"s":"fast","d":"2025-02-01","v":8.36},{"s":"fast","d":"2025-02-02","v":8.11},{"s":"fast","d":"2025-02-04","v":7.75},{"s":"fast","d":"2025-02-06","v":7.39},{"s":"fast","d":"2025-02-09","v":7.04},{"s":"fast","d":"2025-02-12","v":6.79},{"s":"fast","d":"2025-02-15","v":6.61},{"s":"fast","d":"2025-02-18","v":6.43},{"s":"fast","d":"2025-02-20","v":6.32},{"s":"fast","d":"2025-02-23","v":6.27},{"s":"fast","d":"2025-02-26","v":6.12},{"s":"fast","d":"2025-03-01","v":6.11},{"s":"fast","d":"2025-03-04","v":6.22},{"s":"fast","d":"2025-03-06","v":6.18},{"s":"fast","d":"2025-03-09","v":6.18},{"s":"fast","d":"2025-03-12","v":6.07},{"s":"fast","d":"2025-03-15","v":5.79},{"s":"fast","d":"2025-03-18","v":5.61},{"s":"fast","d":"2025-03-23","v":5.6},{"s":"fast","d":"2025-03-26","v":5.68},{"s":"fast","d":"2025-03-28","v":5.72},{"s":"fast","d":"2025-04-01","v":5.61},{"s":"fast","d":"2025-04-05","v":5.43},{"s":"fast","d":"2025-04-08","v":5.18},{"s":"fast","d":"2025-04-10","v":5.07},{"s":"fast","d":"2025-04-14","v":4.93},{"s":"fast","d":"2025-04-19","v":4.86},{"s":"fast","d":"2025-04-23","v":4.93},{"s":"fast","d":"2025-04-26","v":5.13},{"s":"fast","d":"2025-04-30","v":5.25},{"s":"fast","d":"2025-05-04","v":5.25},{"s":"fast","d":"2025-05-08","v":5.15},{"s":"fast","d":"2025-05-10","v":5.22},{"s":"fast","d":"2025-05-13","v":5.47},{"s":"fast","d":"2025-05-15","v":5.48},{"s":"fast","d":"2025-05-21","v":5.36},{"s":"fast","d":"2025-05-26","v":5.32},{"s":"fast","d":"2025-05-30","v":5.32},{"s":"fast","d":"2025-06-03","v":5.15},{"s":"fast","d":"2025-06-06","v":5},{"s":"fast","d":"2025-06-12","v":4.93},{"s":"fast","d":"2025-06-18","v":4.75},{"s":"fast","d":"2025-06-21","v":4.65},{"s":"fast","d":"2025-06-24","v":4.54},{"s":"fast","d":"2025-06-26","v":4.65},{"s":"fast","d":"2025-07-01","v":4.72},{"s":"fast","d":"2025-07-05","v":4.67},{"s":"fast","d":"2025-07-10","v":4.61},{"s":"fast","d":"2025-07-13","v":4.67},{"s":"fast","d":"2025-07-17","v":4.75},{"s":"fast","d":"2025-07-20","v":4.93},{"s":"fast","d":"2025-07-21","v":5},{"s":"fast","d":"2025-07-24","v":5},{"s":"fast","d":"2025-07-29","v":4.9},{"s":"fast","d":"2025-08-02","v":4.65},{"s":"fast","d":"2025-08-05","v":4.55},{"s":"fast","d":"2025-08-11","v":4.63},{"s":"fast","d":"2025-08-17","v":4.72},{"s":"fast","d":"2025-08-21","v":4.68},{"s":"fast","d":"2025-08-25","v":4.65},{"s":"fast","d":"2025-09-01","v":4.43},{"s":"fast","d":"2025-09-07","v":4.38},{"s":"fast","d":"2025-09-12","v":4.43},{"s":"fast","d":"2025-09-17","v":4.5},{"s":"fast","d":"2025-09-22","v":4.5},{"s":"fast","d":"2025-09-26","v":4.38},{"s":"fast","d":"2025-09-30","v":4.34},{"s":"fast","d":"2025-10-02","v":4.5},{"s":"fast","d":"2025-10-04","v":4.68},{"s":"fast","d":"2025-10-08","v":4.86},{"s":"fast","d":"2025-10-10","v":4.88},
{"s":"mid","d":"2024-10-30","v":8.66},{"s":"mid","d":"2024-10-31","v":8.73},{"s":"mid","d":"2024-11-02","v":8.73},{"s":"mid","d":"2024-11-05","v":8.68},{"s":"mid","d":"2024-11-08","v":8.73},{"s":"mid","d":"2024-11-10","v":8.82},{"s":"mid","d":"2024-11-12","v":9.03},{"s":"mid","d":"2024-11-14","v":9.35},{"s":"mid","d":"2024-11-17","v":9.6},{"s":"mid","d":"2024-11-21","v":9.96},{"s":"mid","d":"2024-11-25","v":10.32},{"s":"mid","d":"2024-11-29","v":10.57},{"s":"mid","d":"2024-12-02","v":10.85},{"s":"mid","d":"2024-12-04","v":11.21},{"s":"mid","d":"2024-12-07","v":11.49},{"s":"mid","d":"2024-12-09","v":11.75},{"s":"mid","d":"2024-12-10","v":11.75},{"s":"mid","d":"2024-12-13","v":11.92},{"s":"mid","d":"2024-12-17","v":12.16},{"s":"mid","d":"2024-12-19","v":12.17},{"s":"mid","d":"2024-12-21","v":12.1},{"s":"mid","d":"2024-12-23","v":11.89},{"s":"mid","d":"2024-12-26","v":11.64},{"s":"mid","d":"2024-12-29","v":11.28},{"s":"mid","d":"2024-12-31","v":11.1},{"s":"mid","d":"2025-01-03","v":10.92},{"s":"mid","d":"2025-01-07","v":10.77},{"s":"mid","d":"2025-01-12","v":10.5},{"s":"mid","d":"2025-01-15","v":10.28},{"s":"mid","d":"2025-01-19","v":10.14},{"s":"mid","d":"2025-01-24","v":9.82},{"s":"mid","d":"2025-01-30","v":9.53},{"s":"mid","d":"2025-02-02","v":9.25},{"s":"mid","d":"2025-02-05","v":8.89},{"s":"mid","d":"2025-02-10","v":8.31},{"s":"mid","d":"2025-02-18","v":7.67},{"s":"mid","d":"2025-02-23","v":7.39},{"s":"mid","d":"2025-02-28","v":7.11},{"s":"mid","d":"2025-03-03","v":7.05},{"s":"mid","d":"2025-03-08","v":6.82},{"s":"mid","d":"2025-03-14","v":6.5},{"s":"mid","d":"2025-03-18","v":6.32},{"s":"mid","d":"2025-03-26","v":6.17},{"s":"mid","d":"2025-03-31","v":6.07},{"s":"mid","d":"2025-04-05","v":5.88},{"s":"mid","d":"2025-04-09","v":5.68},{"s":"mid","d":"2025-04-14","v":5.5},{"s":"mid","d":"2025-04-21","v":5.35},{"s":"mid","d":"2025-04-26","v":5.33},{"s":"mid","d":"2025-04-30","v":5.36},{"s":"mid","d":"2025-05-05","v":5.32},{"s":"mid","d":"2025-05-09","v":5.29},{"s":"mid","d":"2025-05-13","v":5.43},{"s":"mid","d":"2025-05-19","v":5.36},{"s":"mid","d":"2025-05-26","v":5.36},{"s":"mid","d":"2025-05-31","v":5.34},{"s":"mid","d":"2025-06-06","v":5.18},{"s":"mid","d":"2025-06-13","v":5.15},{"s":"mid","d":"2025-06-20","v":5},{"s":"mid","d":"2025-06-24","v":4.86},{"s":"mid","d":"2025-07-01","v":4.84},{"s":"mid","d":"2025-07-08","v":4.77},{"s":"mid","d":"2025-07-14","v":4.79},{"s":"mid","d":"2025-07-19","v":4.86},{"s":"mid","d":"2025-07-22","v":4.93},{"s":"mid","d":"2025-07-25","v":4.93},{"s":"mid","d":"2025-07-30","v":4.86},{"s":"mid","d":"2025-08-03","v":4.77},{"s":"mid","d":"2025-08-09","v":4.72},{"s":"mid","d":"2025-08-17","v":4.72},{"s":"mid","d":"2025-08-25","v":4.65},{"s":"mid","d":"2025-09-01","v":4.58},{"s":"mid","d":"2025-09-09","v":4.53},{"s":"mid","d":"2025-09-17","v":4.58},{"s":"mid","d":"2025-09-23","v":4.48},{"s":"mid","d":"2025-09-30","v":4.45},{"s":"mid","d":"2025-10-02","v":4.48},{"s":"mid","d":"2025-10-06","v":4.65},{"s":"mid","d":"2025-10-10","v":4.7},
{"s":"slow","d":"2024-10-30","v":8.07},{"s":"slow","d":"2024-11-04","v":8.18},{"s":"slow","d":"2024-11-07","v":8.19},{"s":"slow","d":"2024-11-10","v":8.28},{"s":"slow","d":"2024-11-11","v":8.39},{"s":"slow","d":"2024-11-13","v":8.53},{"s":"slow","d":"2024-11-15","v":8.68},{"s":"slow","d":"2024-11-20","v":8.96},{"s":"slow","d":"2024-11-25","v":9.32},{"s":"slow","d":"2024-11-30","v":9.57},{"s":"slow","d":"2024-12-03","v":9.82},{"s":"slow","d":"2024-12-06","v":10.1},{"s":"slow","d":"2024-12-09","v":10.35},{"s":"slow","d":"2024-12-11","v":10.39},{"s":"slow","d":"2024-12-14","v":10.57},{"s":"slow","d":"2024-12-17","v":10.77},{"s":"slow","d":"2024-12-20","v":10.83},{"s":"slow","d":"2024-12-22","v":10.82},{"s":"slow","d":"2024-12-26","v":10.71},{"s":"slow","d":"2024-12-30","v":10.57},{"s":"slow","d":"2025-01-02","v":10.46},{"s":"slow","d":"2025-01-07","v":10.39},{"s":"slow","d":"2025-01-12","v":10.25},{"s":"slow","d":"2025-01-15","v":10.19},{"s":"slow","d":"2025-01-19","v":10.14},{"s":"slow","d":"2025-01-24","v":9.96},{"s":"slow","d":"2025-01-30","v":9.71},{"s":"slow","d":"2025-02-02","v":9.57},{"s":"slow","d":"2025-02-05","v":9.36},{"s":"slow","d":"2025-02-19","v":8.68},{"s":"slow","d":"2025-03-04","v":7.99},{"s":"slow","d":"2025-03-17","v":7.39},{"s":"slow","d":"2025-03-27","v":7.12},{"s":"slow","d":"2025-04-05","v":6.8},{"s":"slow","d":"2025-04-15","v":6.39},{"s":"slow","d":"2025-04-24","v":6.19},{"s":"slow","d":"2025-05-06","v":6.05},{"s":"slow","d":"2025-05-16","v":5.9},{"s":"slow","d":"2025-05-27","v":5.79},{"s":"slow","d":"2025-06-08","v":5.62},{"s":"slow","d":"2025-06-23","v":5.3},{"s":"slow","d":"2025-07-09","v":5.12},{"s":"slow","d":"2025-07-23","v":5.12},{"s":"slow","d":"2025-08-03","v":5.04},{"s":"slow","d":"2025-08-20","v":4.89},{"s":"slow","d":"2025-09-02","v":4.76},{"s":"slow","d":"2025-09-14","v":4.7},{"s":"slow","d":"2025-09-29","v":4.61},{"s":"slow","d":"2025-10-09","v":4.717},
{"s":"long","d":"2024-10-30","v":8.11},{"s":"long","d":"2024-11-04","v":8.14},{"s":"long","d":"2024-11-11","v":8.23},{"s":"long","d":"2024-11-17","v":8.5},{"s":"long","d":"2024-11-22","v":8.64},{"s":"long","d":"2024-11-27","v":8.82},{"s":"long","d":"2024-12-02","v":9},{"s":"long","d":"2024-12-05","v":9.18},{"s":"long","d":"2024-12-09","v":9.38},{"s":"long","d":"2024-12-12","v":9.44},{"s":"long","d":"2024-12-15","v":9.57},{"s":"long","d":"2024-12-17","v":9.69},{"s":"long","d":"2024-12-20","v":9.75},{"s":"long","d":"2024-12-22","v":9.75},{"s":"long","d":"2024-12-25","v":9.73},{"s":"long","d":"2024-12-30","v":9.69},{"s":"long","d":"2025-01-04","v":9.66},{"s":"long","d":"2025-01-09","v":9.66},{"s":"long","d":"2025-01-14","v":9.63},{"s":"long","d":"2025-01-20","v":9.61},{"s":"long","d":"2025-01-24","v":9.58},{"s":"long","d":"2025-01-29","v":9.53},{"s":"long","d":"2025-02-01","v":9.45},{"s":"long","d":"2025-02-05","v":9.32},{"s":"long","d":"2025-02-27","v":8.6},{"s":"long","d":"2025-03-09","v":8.35},{"s":"long","d":"2025-03-20","v":8.02},{"s":"long","d":"2025-04-01","v":7.72},{"s":"long","d":"2025-04-12","v":7.42},{"s":"long","d":"2025-04-21","v":7.2},{"s":"long","d":"2025-05-05","v":6.97},{"s":"long","d":"2025-05-17","v":6.82},{"s":"long","d":"2025-06-02","v":6.6},{"s":"long","d":"2025-06-18","v":6.33},{"s":"long","d":"2025-06-29","v":6.13},{"s":"long","d":"2025-07-09","v":5.94},{"s":"long","d":"2025-07-22","v":5.87},{"s":"long","d":"2025-08-03","v":5.73},{"s":"long","d":"2025-08-20","v":5.55},{"s":"long","d":"2025-08-31","v":5.42},{"s":"long","d":"2025-09-16","v":5.28},{"s":"long","d":"2025-09-29","v":5.17},{"s":"long","d":"2025-10-09","v":5.17}
],
"macd":[
{"s":"macd","d":"2024-10-30","v":0.295},{"s":"macd","d":"2024-10-31","v":0.304},{"s":"macd","d":"2024-11-02","v":0.224},{"s":"macd","d":"2024-11-04","v":0.076},{"s":"macd","d":"2024-11-06","v":-0.127},{"s":"macd","d":"2024-11-07","v":-0.03},{"s":"macd","d":"2024-11-09","v":0.097},{"s":"macd","d":"2024-11-11","v":0.266},{"s":"macd","d":"2024-11-12","v":0.624},{"s":"macd","d":"2024-11-13","v":0.717},{"s":"macd","d":"2024-11-15","v":0.709},{"s":"macd","d":"2024-11-17","v":0.785},{"s":"macd","d":"2024-11-19","v":0.772},{"s":"macd","d":"2024-11-22","v":0.717},{"s":"macd","d":"2024-11-24","v":0.764},{"s":"macd","d":"2024-11-27","v":0.646},{"s":"macd","d":"2024-11-29","v":0.675},{"s":"macd","d":"2024-12-02","v":0.751},{"s":"macd","d":"2024-12-04","v":0.878},{"s":"macd","d":"2024-12-06","v":0.857},{"s":"macd","d":"2024-12-08","v":0.92},{"s":"macd","d":"2024-12-10","v":0.793},{"s":"macd","d":"2024-12-11","v":0.477},{"s":"macd","d":"2024-12-12","v":0.426},{"s":"macd","d":"2024-12-14","v":0.477},{"s":"macd","d":"2024-12-17","v":0.435},{"s":"macd","d":"2024-12-20","v":0.034},{"s":"macd","d":"2024-12-22","v":-0.304},{"s":"macd","d":"2024-12-23","v":-0.557},{"s":"macd","d":"2024-12-26","v":-0.768},{"s":"macd","d":"2024-12-28","v":-0.987},{"s":"macd","d":"2025-01-01","v":-1.046},{"s":"macd","d":"2025-01-03","v":-0.937},{"s":"macd","d":"2025-01-05","v":-0.641},{"s":"macd","d":"2025-01-08","v":-0.536},{"s":"macd","d":"2025-01-10","v":-0.586},{"s":"macd","d":"2025-01-12","v":-0.549},{"s":"macd","d":"2025-01-15","v":-0.578},{"s":"macd","d":"2025-01-17","v":-0.409},{"s":"macd","d":"2025-01-19","v":-0.333},{"s":"macd","d":"2025-01-21","v":-0.388},{"s":"macd","d":"2025-01-25","v":-0.422},{"s":"macd","d":"2025-01-29","v":-0.591},{"s":"macd","d":"2025-02-01","v":-0.549},{"s":"macd","d":"2025-02-03","v":-0.684},{"s":"macd","d":"2025-02-08","v":-0.873},{"s":"macd","d":"2025-02-10","v":-0.852},{"s":"macd","d":"2025-02-15","v":-0.641},{"s":"macd","d":"2025-02-19","v":-0.586},{"s":"macd","d":"2025-02-22","v":-0.451},{"s":"macd","d":"2025-02-24","v":-0.38},{"s":"macd","d":"2025-02-27","v":-0.397},{"s":"macd","d":"2025-03-03","v":-0.148},{"s":"macd","d":"2025-03-04","v":-0.211},{"s":"macd","d":"2025-03-08","v":-0.143},{"s":"macd","d":"2025-03-15","v":-0.295},{"s":"macd","d":"2025-03-17","v":-0.295},{"s":"macd","d":"2025-03-24","v":-0.127},{"s":"macd","d":"2025-03-27","v":0},{"s":"macd","d":"2025-04-03","v":-0.114},{"s":"macd","d":"2025-04-09","v":-0.316},{"s":"macd","d":"2025-04-12","v":-0.295},{"s":"macd","d":"2025-04-15","v":-0.219},{"s":"macd","d":"2025-04-19","v":-0.211},{"s":"macd","d":"2025-04-24","v":-0.051},{"s":"macd","d":"2025-04-28","v":0.11},{"s":"macd","d":"2025-05-03","v":0.122},{"s":"macd","d":"2025-05-06","v":0.034},{"s":"macd","d":"2025-05-08","v":-0.038},{"s":"macd","d":"2025-05-11","v":0.11},{"s":"macd","d":"2025-05-14","v":0.203},{"s":"macd","d":"2025-05-16","v":0.139},{"s":"macd","d":"2025-05-19","v":0.034},{"s":"macd","d":"2025-05-22","v":0.004},{"s":"macd","d":"2025-05-24","v":0.025},{"s":"macd","d":"2025-05-30","v":0.004},{"s":"macd","d":"2025-06-01","v":-0.093},{"s":"macd","d":"2025-06-03","v":-0.122},{"s":"macd","d":"2025-06-06","v":-0.169},{"s":"macd","d":"2025-06-09","v":-0.165},{"s":"macd","d":"2025-06-12","v":-0.093},{"s":"macd","d":"2025-06-15","v":-0.143},{"s":"macd","d":"2025-06-20","v":-0.169},{"s":"macd","d":"2025-06-23","v":-0.232},{"s":"macd","d":"2025-06-25","v":-0.143},{"s":"macd","d":"2025-06-30","v":-0.008},{"s":"macd","d":"2025-07-04","v":-0.008},{"s":"macd","d":"2025-07-08","v":-0.059},{"s":"macd","d":"2025-07-14","v":0.025},{"s":"macd","d":"2025-07-18","v":0.152},{"s":"macd","d":"2025-07-22","v":0.203},{"s":"macd","d":"2025-07-26","v":0.068},{"s":"macd","d":"2025-07-30","v":-0.051},{"s":"macd","d":"2025-08-03","v":-0.165},{"s":"macd","d":"2025-08-07","v":-0.165},{"s":"macd","d":"2025-08-11","v":-0.072},{"s":"macd","d":"2025-08-14","v":0},{"s":"macd","d":"2025-08-18","v":0.013},{"s":"macd","d":"2025-08-21","v":-0.034},{"s":"macd","d":"2025-08-23","v":0.004},{"s":"macd","d":"2025-08-27","v":-0.042},{"s":"macd","d":"2025-09-01","v":-0.093},{"s":"macd","d":"2025-09-06","v":-0.08},{"s":"macd","d":"2025-09-13","v":0.013},{"s":"macd","d":"2025-09-20","v":0.046},{"s":"macd","d":"2025-09-23","v":0.013},{"s":"macd","d":"2025-09-26","v":-0.059},{"s":"macd","d":"2025-09-30","v":-0.051},{"s":"macd","d":"2025-10-03","v":0.118},{"s":"macd","d":"2025-10-05","v":0.224},{"s":"macd","d":"2025-10-08","v":0.253},{"s":"macd","d":"2025-10-10","v":0.209},
{"s":"signal","d":"2024-10-30","v":0.456},{"s":"signal","d":"2024-11-01","v":0.35},{"s":"signal","d":"2024-11-04","v":0.203},{"s":"signal","d":"2024-11-06","v":0.076},{"s":"signal","d":"2024-11-09","v":0.055},{"s":"signal","d":"2024-11-12","v":0.203},{"s":"signal","d":"2024-11-15","v":0.477},{"s":"signal","d":"2024-11-19","v":0.646},{"s":"signal","d":"2024-11-26","v":0.722},{"s":"signal","d":"2024-11-29","v":0.679},{"s":"signal","d":"2024-12-03","v":0.709},{"s":"signal","d":"2024-12-06","v":0.793},{"s":"signal","d":"2024-12-09","v":0.844},{"s":"signal","d":"2024-12-12","v":0.667},{"s":"signal","d":"2024-12-17","v":0.519},{"s":"signal","d":"2024-12-20","v":0.35},{"s":"signal","d":"2024-12-23","v":-0.008},{"s":"signal","d":"2024-12-26","v":-0.409},{"s":"signal","d":"2024-12-30","v":-0.747},{"s":"signal","d":"2025-01-03","v":-0.886},{"s":"signal","d":"2025-01-05","v":-0.873},{"s":"signal","d":"2025-01-09","v":-0.684},{"s":"signal","d":"2025-01-14","v":-0.599},{"s":"signal","d":"2025-01-19","v":-0.451},{"s":"signal","d":"2025-01-24","v":-0.418},{"s":"signal","d":"2025-01-28","v":-0.473},{"s":"signal","d":"2025-02-02","v":-0.536},{"s":"signal","d":"2025-02-08","v":-0.734},{"s":"signal","d":"2025-02-11","v":-0.789},{"s":"signal","d":"2025-02-14","v":-0.759},{"s":"signal","d":"2025-02-19","v":-0.65},{"s":"signal","d":"2025-02-24","v":-0.494},{"s":"signal","d":"2025-02-27","v":-0.43},{"s":"signal","d":"2025-03-03","v":-0.283},{"s":"signal","d":"2025-03-10","v":-0.19},{"s":"signal","d":"2025-03-18","v":-0.27},{"s":"signal","d":"2025-03-24","v":-0.198},{"s":"signal","d":"2025-03-29","v":-0.08},{"s":"signal","d":"2025-04-02","v":-0.093},{"s":"signal","d":"2025-04-06","v":-0.156},{"s":"signal","d":"2025-04-11","v":-0.253},{"s":"signal","d":"2025-04-19","v":-0.228},{"s":"signal","d":"2025-04-24","v":-0.122},{"s":"signal","d":"2025-04-29","v":0.034},{"s":"signal","d":"2025-05-01","v":0.084},{"s":"signal","d":"2025-05-06","v":0.068},{"s":"signal","d":"2025-05-09","v":0.034},{"s":"signal","d":"2025-05-15","v":0.139},{"s":"signal","d":"2025-05-22","v":0.055},{"s":"signal","d":"2025-05-30","v":0.013},{"s":"signal","d":"2025-06-08","v":-0.135},{"s":"signal","d":"2025-06-12","v":-0.114},{"s":"signal","d":"2025-06-19","v":-0.143},{"s":"signal","d":"2025-06-24","v":-0.186},{"s":"signal","d":"2025-07-01","v":-0.042},{"s":"signal","d":"2025-07-09","v":-0.042},{"s":"signal","d":"2025-07-17","v":0.042},{"s":"signal","d":"2025-07-23","v":0.148},{"s":"signal","d":"2025-07-28","v":0.076},{"s":"signal","d":"2025-08-02","v":-0.072},{"s":"signal","d":"2025-08-07","v":-0.122},{"s":"signal","d":"2025-08-16","v":-0.017},{"s":"signal","d":"2025-08-23","v":-0.008},{"s":"signal","d":"2025-09-01","v":-0.059},{"s":"signal","d":"2025-09-08","v":-0.084},{"s":"signal","d":"2025-09-16","v":-0.008},{"s":"signal","d":"2025-09-22","v":0.025},{"s":"signal","d":"2025-09-30","v":-0.038},{"s":"signal","d":"2025-10-05","v":0.097},{"s":"signal","d":"2025-10-10","v":0.1729}
],
"levels":[
{"d":"2025-02-17","e":"2025-12-15","v":6.916},
{"d":"2025-05-10","e":"2025-12-01","v":6.232}
],
"tags":[
{"tag":"top","d":"2026-04-22T08:00:00Z","e":"2026-05-08T16:00:00Z","v":5.339,"w":5.253},
{"tag":"close","d":"2026-04-22T08:00:00Z","e":"2026-05-08T16:00:00Z","v":5.253,"w":4.89},
{"tag":"close","d":"2026-04-05T08:00:00Z","e":"2026-04-22T00:00:00Z","v":5.253,"w":4.89},
{"tag":"ma","d":"2026-04-22T08:00:00Z","e":"2026-05-08T16:00:00Z","v":4.89,"w":4.507}
]
},
"vconcat":[
{
"width":1673,"height":612,
"view":{"stroke":null,"fill":{"gradient":"linear","x1":0,"y1":0,"x2":0,"y2":1,"stops":[{"offset":0,"color":"#191d28"},{"offset":1,"color":"#131722"}]}},
"resolve":{"scale":{"color":"independent"}},
"encoding":{
 "x":{"field":"d","type":"temporal","axis":null,"scale":{"type":"utc","nice":false,"padding":0,"domain":[{"year":2024,"month":10,"date":29,"hours":8,"utc":true},{"year":2026,"month":5,"date":10,"utc":true}]}},
 "y":{"field":"v","type":"quantitative","axis":{"orient":"right","values":[3,4,5,6,7,8,9,10,11,12,13,14,15],"format":".4f","labelAlign":"left","labelPadding":-45},"scale":{"domain":[2.579,15.675],"nice":false,"zero":false}}
},
"layer":[
 {"data":{"values":[{"d":"2024-10-29T12:00:00Z","e":"2026-04-05T00:00:00Z","v":5.083}]},"mark":{"type":"rule","color":"#ffeb3b","strokeWidth":1,"strokeDash":[1,2]},"encoding":{"x2":{"field":"e"}}},
 {"data":{"name":"ohlc"},"mark":{"type":"rule","color":"#ffffff","strokeWidth":1},"encoding":{"y":{"field":"h","type":"quantitative","scale":{"domain":[2.579,15.675],"nice":false,"zero":false}},"y2":{"field":"l"}}},
 {"data":{"name":"ohlc"},"mark":{"type":"bar","size":2.7},"encoding":{"y":{"field":"o","type":"quantitative","scale":{"domain":[2.579,15.675],"nice":false,"zero":false}},"y2":{"field":"c"},"color":{"condition":{"test":"datum.c>=datum.o","value":"#ffeb4d"},"value":"#3f7fee"}}},
 {"data":{"name":"ma"},"mark":{"type":"line","strokeWidth":1.3,"interpolate":"monotone"},"encoding":{"color":{"field":"s","type":"nominal","legend":null,"scale":{"domain":["fast","mid","slow","long"],"range":["#b82e36","#2f6b2f","#d97a06","#cfd2da"]}}}},
 {"data":{"values":[{"d":"2025-02-12T12:00:00Z","e":"2025-11-17T08:00:00Z","v":6.965,"w":4.412}]},"mark":{"type":"rule","color":"#fde23a","strokeWidth":2},"encoding":{"x2":{"field":"e"},"y2":{"field":"w"}}},
 {"data":{"name":"levels"},"mark":{"type":"rule","color":"#ff3b3b","strokeWidth":8.7,"strokeCap":"round"},"encoding":{"x2":{"field":"e"}}},
 {"data":{"values":[{"d":"2025-07-20","e":"2025-11-28T16:00:00Z","v":5.617}]},"mark":{"type":"rule","color":"#ff3b3b","strokeWidth":8},"encoding":{"x2":{"field":"e"}}},
 {"data":{"name":"tags"},"mark":{"type":"rect"},"encoding":{"x2":{"field":"e"},"y2":{"field":"w"},"color":{"field":"tag","type":"nominal","legend":null,"scale":{"domain":["top","close","ma"],"range":["#ffffff","#ffeb3b","#ff9800"]}}}},
 {"data":{"values":[{"d":"2026-04-25","v":5.083,"t":"5.0830"},{"d":"2026-04-25","v":4.7,"t":"4.7173"},{"d":"2026-04-06T16:00:00Z","v":5.083,"t":"APTUSD"}]},"mark":{"type":"text","align":"left","baseline":"middle","font":"Roboto","fontSize":12,"color":"#3a2f10"},"encoding":{"text":{"field":"t"}}},
 {"data":{"values":[{"d":"2025-11-20","v":4.31,"t":"泡沫之上-"}]},"mark":{"type":"text","align":"left","baseline":"middle","font":"Noto Sans CJK SC","fontWeight":"bold","fontSize":28,"color":"#eceff2"},"encoding":{"text":{"field":"t"}}}
]
},
{
"width":1673,"height":209,
"view":{"stroke":null,"fill":{"gradient":"linear","x1":0,"y1":0,"x2":0,"y2":1,"stops":[{"offset":0,"color":"#191d28"},{"offset":1,"color":"#131722"}]}},
"resolve":{"scale":{"color":"independent"}},
"encoding":{
 "x":{"field":"d","type":"temporal","axis":{"orient":"bottom","labelFontWeight":"bold","labelBaseline":"middle","labelPadding":-6,"values":[{"year":2024,"month":11,"date":3,"utc":true},{"year":2024,"month":12,"date":1,"utc":true},{"year":2025,"month":1,"date":1,"utc":true},{"year":2025,"month":2,"date":1,"utc":true},{"year":2025,"month":3,"date":1,"utc":true},{"year":2025,"month":4,"date":1,"utc":true},{"year":2025,"month":5,"date":1,"utc":true},{"year":2025,"month":6,"date":1,"utc":true},{"year":2025,"month":7,"date":1,"utc":true},{"year":2025,"month":8,"date":1,"utc":true},{"year":2025,"month":9,"date":1,"utc":true},{"year":2025,"month":10,"date":1,"utc":true},{"year":2025,"month":11,"date":1,"utc":true},{"year":2025,"month":12,"date":1,"utc":true},{"year":2026,"month":1,"date":1,"utc":true},{"year":2026,"month":2,"date":1,"utc":true},{"year":2026,"month":3,"date":1,"utc":true},{"year":2026,"month":4,"date":1,"utc":true}],"labelExpr":"utcmonth(datum.value)==0 ? ''+utcyear(datum.value) : (utcmonth(datum.value)+1)+'月'"},"scale":{"type":"utc","nice":false,"padding":0,"domain":[{"year":2024,"month":10,"date":29,"hours":8,"utc":true},{"year":2026,"month":5,"date":10,"utc":true}]}},
 "y":{"field":"v","type":"quantitative","axis":{"orient":"right","values":[-1,-0.5,0.5,1],"format":".4f","labelAlign":"left","labelPadding":-45},"scale":{"domain":[-1.502,1.144],"nice":false,"zero":false}}
},
"layer":[
 {"data":{"values":[{"d":"2024-10-29T12:00:00Z","e":"2026-05-09T12:00:00Z","v":1.138}]},"mark":{"type":"rule","color":"#2a2e39","strokeWidth":1},"encoding":{"x2":{"field":"e"}}},
 {"data":{"values":[{"d":"2024-10-29T08:00:00Z","e":"2026-05-10","v":-1.502,"w":-1.59}]},"mark":{"type":"rect","color":"#ececee"},"encoding":{"x2":{"field":"e"},"y2":{"field":"w"}}},
 {"data":{"values":[{"d":"2025-10-11","e":"2026-04-22","v":0}]},"mark":{"type":"rule","color":"#6f7380","strokeWidth":1,"strokeDash":[6,6]},"encoding":{"x2":{"field":"e"}}},
 {"data":{"name":"ohlc"},"transform":[{"window":[{"op":"lag","field":"m","as":"prev"}],"sort":[{"field":"d"}]}],"mark":{"type":"bar","size":1.2},"encoding":{"y":{"field":"m","type":"quantitative","stack":null,"scale":{"domain":[-1.502,1.144],"nice":false,"zero":false}},"y2":{"datum":0},"color":{"condition":[{"test":"datum.m>=0&&datum.m>=datum.prev","value":"#26a69a"},{"test":"datum.m>=0","value":"#d5dde0"},{"test":"datum.m<datum.prev","value":"#ff5252"}],"value":"#ffcdd2"}}},
 {"data":{"name":"macd"},"mark":{"type":"line","strokeWidth":1.4,"interpolate":"monotone"},"encoding":{"color":{"field":"s","type":"nominal","legend":null,"scale":{"domain":["macd","signal"],"range":["#2962ff","#e5700c"]}}}},
 {"data":{"values":[{"d":"2024-10-30T08:00:00Z","v":0.957}]},"mark":{"type":"point","shape":"circle","size":20,"color":"#ff6d00","filled":false},"encoding":{}},
 {"data":{"values":[{"d":"2026-04-22T08:00:00Z","e":"2026-05-08T16:00:00Z","v":0.08,"w":-0.072}]},"mark":{"type":"rect","color":"#c8dcdc"},"encoding":{"x2":{"field":"e"},"y2":{"field":"w"}}},
 {"data":{"values":[{"d":"2026-04-25","v":0.02,"t":"0.0356"}]},"mark":{"type":"text","align":"left","baseline":"middle","font":"Roboto","fontSize":12,"color":"#3a4450"},"encoding":{"text":{"field":"t"}}},
 {"data":{"values":[{"d":"2026-04-22T08:00:00Z","e":"2026-05-08T16:00:00Z","v":0.32,"w":0.282}]},"mark":{"type":"rect","color":"#2962ff"},"encoding":{"x2":{"field":"e"},"y2":{"field":"w"}}},
 {"data":{"values":[{"d":"2026-04-22T08:00:00Z","e":"2026-05-08T16:00:00Z","v":0.282,"w":0.08}]},"mark":{"type":"rect","color":"#ff6d00"},"encoding":{"x2":{"field":"e"},"y2":{"field":"w"}}},
 {"data":{"values":[{"d":"2026-04-25","v":0.172,"t":"0.1729"}]},"mark":{"type":"text","align":"left","baseline":"middle","font":"Roboto","fontSize":12,"fontWeight":"bold","color":"#ffffff"},"encoding":{"text":{"field":"t"}}},
 {"data":{"values":[{"d":"2026-03-30","v":-1.603}]},"mark":{"type":"point","shape":"diamond","size":420,"filled":false,"color":"#d3d4d6","strokeWidth":2},"encoding":{}},
 {"data":{"values":[{"d":"2026-05-02","v":-1.426}]},"mark":{"type":"point","shape":"circle","size":70,"filled":false,"color":"#b2b5be","strokeWidth":1},"encoding":{}},
 {"data":{"values":[{"d":"2026-04-07T00:00:00Z","v":-1.603,"t":"@ 泡沫之上-"}]},"mark":{"type":"text","align":"left","baseline":"middle","font":"Noto Sans CJK SC","fontSize":23,"color":"#d3d4d6","opacity":0.9},"encoding":{"text":{"field":"t"}}}
]
}
]
}
